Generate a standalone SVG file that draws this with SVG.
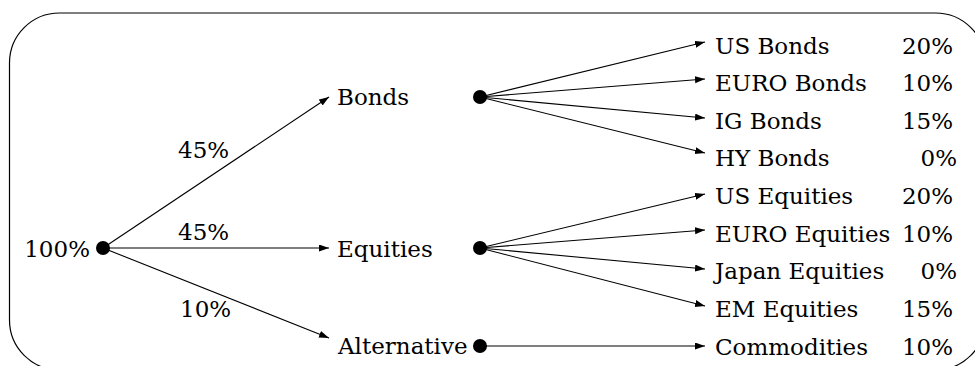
<svg xmlns="http://www.w3.org/2000/svg" width="975" height="366" viewBox="0 0 975 366">
<defs>
<marker id="arr" markerUnits="userSpaceOnUse" markerWidth="11" markerHeight="8" refX="10" refY="3.5" orient="auto">
<path d="M0,0 L10,3.5 L0,7 Z" fill="#000"/>
</marker>
<style>
text{font-family:'DejaVu Serif','Liberation Serif',serif;font-size:23px;fill:#000}
.r{text-anchor:end}
.e{stroke:#000;stroke-width:1.1;fill:none;marker-end:url(#arr)}
.d{fill:#000}
</style>
</defs>
<rect x="9.5" y="13" width="976" height="357" rx="50" ry="50" fill="none" stroke="#000" stroke-width="1.2"/>
<g id="connectors">
<line class="e" x1="103" y1="248" x2="329" y2="97"/>
<line class="e" x1="103" y1="248" x2="329" y2="248"/>
<line class="e" x1="103" y1="248" x2="329" y2="338"/>
<line class="e" x1="480" y1="97" x2="705" y2="42"/>
<line class="e" x1="480" y1="97" x2="705" y2="79"/>
<line class="e" x1="480" y1="97" x2="705" y2="118"/>
<line class="e" x1="480" y1="97" x2="705" y2="153"/>
<line class="e" x1="480" y1="248" x2="705" y2="194"/>
<line class="e" x1="480" y1="248" x2="705" y2="230"/>
<line class="e" x1="480" y1="248" x2="705" y2="269"/>
<line class="e" x1="480" y1="248" x2="705" y2="306"/>
<line class="e" x1="480" y1="346" x2="705" y2="346"/>
<text x="178" y="158">45%</text>
<text x="178" y="240">45%</text>
<text x="180" y="317">10%</text>
</g>
<g id="root"><text class="r" x="90" y="257">100%</text><circle class="d" cx="103" cy="248" r="7"/></g>
<g id="bonds"><text x="337" y="105">Bonds</text><circle class="d" cx="480" cy="97" r="7"/></g>
<g id="equities"><text x="337" y="257">Equities</text><circle class="d" cx="480" cy="248" r="7"/></g>
<g id="alternative"><text x="338" y="354">Alternative</text><circle class="d" cx="480" cy="346" r="7"/></g>
<g id="us-bonds"><text x="715" y="54">US Bonds</text><text class="r" x="953" y="54">20%</text></g>
<g id="euro-bonds"><text x="715" y="91">EURO Bonds</text><text class="r" x="953" y="91">10%</text></g>
<g id="ig-bonds"><text x="715" y="129">IG Bonds</text><text class="r" x="953" y="129">15%</text></g>
<g id="hy-bonds"><text x="715" y="166">HY Bonds</text><text class="r" x="957" y="166">0%</text></g>
<g id="us-equities"><text x="715" y="204">US Equities</text><text class="r" x="953" y="204">20%</text></g>
<g id="euro-equities"><text x="715" y="242">EURO Equities</text><text class="r" x="953" y="242">10%</text></g>
<g id="japan-equities"><text x="715" y="279">Japan Equities</text><text class="r" x="957" y="279">0%</text></g>
<g id="em-equities"><text x="715" y="317">EM Equities</text><text class="r" x="953" y="317">15%</text></g>
<g id="commodities"><text x="715" y="355">Commodities</text><text class="r" x="953" y="355">10%</text></g>
</svg>
